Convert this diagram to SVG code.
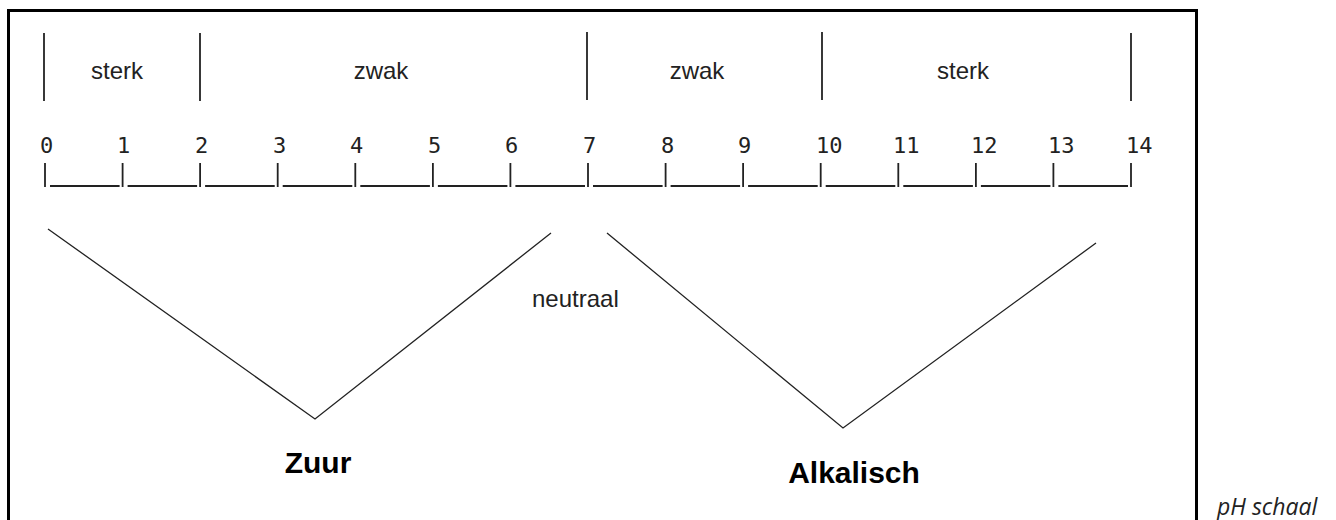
<svg xmlns="http://www.w3.org/2000/svg" width="1336" height="520" viewBox="0 0 1336 520">
<style>
.ln{stroke:#222;fill:none;stroke-width:1.8}
.thin{stroke:#222;fill:none;stroke-width:1.3}
.lab{font-family:"Liberation Sans",Arial,sans-serif;font-size:24px;fill:#222}
.num{font-family:"DejaVu Sans Mono","Liberation Mono",monospace;font-size:22px;fill:#222}
.big{font-family:"Liberation Sans",Arial,sans-serif;font-size:30px;font-weight:bold;fill:#000;text-anchor:middle}
.cap{font-family:"Open Sans",sans-serif;font-size:23px;font-style:italic;fill:#222}
</style>
<rect id="frame" x="8.5" y="10.5" width="1188" height="540" fill="none" stroke="#000" stroke-width="3"/>
<g id="ranges">
<g id="dividers">
<line class="ln" x1="44" y1="33" x2="44" y2="101"/>
<line class="ln" x1="200" y1="33" x2="200" y2="101"/>
<line class="ln" x1="587" y1="32" x2="587" y2="100"/>
<line class="ln" x1="822" y1="32" x2="822" y2="100"/>
<line class="ln" x1="1131" y1="33" x2="1131" y2="101"/>
</g>
<text id="sterk-zuur" class="lab" x="117" y="79" text-anchor="middle">sterk</text>
<text id="zwak-zuur" class="lab" x="381" y="79" text-anchor="middle">zwak</text>
<text id="zwak-base" class="lab" x="697" y="79" text-anchor="middle">zwak</text>
<text id="sterk-base" class="lab" x="963" y="79" text-anchor="middle">sterk</text>
</g>
<g id="scale">
<g id="numbers" class="num">
<text x="40" y="153">0</text>
<text x="117" y="153">1</text>
<text x="195" y="153">2</text>
<text x="273" y="153">3</text>
<text x="350" y="153">4</text>
<text x="428" y="153">5</text>
<text x="505" y="153">6</text>
<text x="583" y="153">7</text>
<text x="661" y="153">8</text>
<text x="738" y="153">9</text>
<text x="816" y="153">10</text>
<text x="893" y="153">11</text>
<text x="971" y="153">12</text>
<text x="1048" y="153">13</text>
<text x="1126" y="153">14</text>
</g>
<g id="ticks" class="ln">
<path d="M45 163V187M122.6 163V187M200.1 163V187M277.7 163V187M355.3 163V187M432.9 163V187M510.4 163V187M588 163V187M665.6 163V187M743.1 163V187M820.7 163V187M898.3 163V187M975.9 163V187M1053.4 163V187M1131 163V187"/>
<path d="M50 186H119.6M127.6 186H197.1M205.1 186H274.7M282.7 186H352.3M360.3 186H429.9M437.9 186H507.4M515.4 186H585M593 186H662.6M670.6 186H740.1M748.1 186H817.7M825.7 186H895.3M903.3 186H972.9M980.9 186H1050.4M1058.4 186H1128"/>
</g>
</g>
<g id="connectors">
<polyline class="thin" points="48,229 315,419 551,233"/>
<polyline class="thin" points="607,233 843,428 1096,243"/>
</g>
<text id="neutraal" class="lab" x="532" y="307">neutraal</text>
<text id="zuur" class="big" x="318" y="473">Zuur</text>
<text id="alkalisch" class="big" x="854" y="483">Alkalisch</text>
<text id="caption" class="cap" x="1217" y="515">pH schaal</text>
</svg>
